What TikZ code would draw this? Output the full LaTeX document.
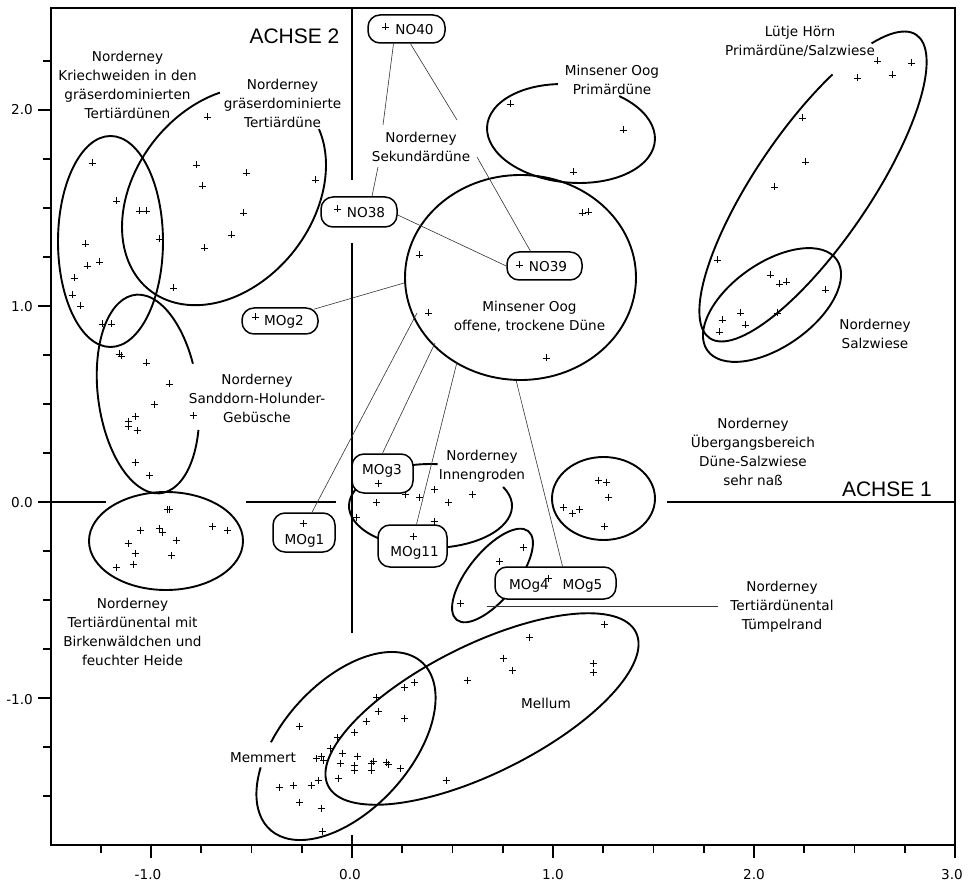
\documentclass[tikz,border=0pt]{standalone}
\usepackage{fontspec}
\setmainfont{DejaVu Sans}
\newfontfamily\achsefont{Liberation Sans}
\begin{document}
\begin{tikzpicture}[x=1pt,y=-1pt,
  ell/.style={line width=1.9pt},
  conn/.style={line width=0.6pt, draw=black!80},
  tagbox/.style={draw, line width=1.5pt, fill=white, rounded corners=12pt, inner sep=0pt},
  lab/.style={align=center, font=\fontsize{13.6}{19}\selectfont, inner sep=0pt},
  btxt/.style={font=\fontsize{13.6}{16}\selectfont, inner sep=0pt},
  axisline/.style={line width=1.7pt},
  ticklab/.style={font=\fontsize{13.6}{16}\selectfont, inner sep=0pt},
  achse/.style={font=\achsefont\fontsize{21}{24}\selectfont, inner sep=0pt},
  mk/.style={line width=0.7pt},
]
\fill[white] (0,0) rectangle (975,885);
\useasboundingbox (0,0) rectangle (975,885);

% frame and ticks
\draw[axisline] (51,8) rectangle (955,845);
\foreach \v in {-1,0,1,2} \draw[axisline] (38,{502-196*\v}) -- (51,{502-196*\v});
\foreach \v in {-1.5,-1.25,-0.75,-0.5,-0.25,0.25,0.5,0.75,1.25,1.5,1.75,2.25}
  \draw[axisline] (43,{502-196*\v}) -- (51,{502-196*\v});
\foreach \u in {-1,0,1,2,3} \draw[axisline] ({352+201*\u},845) -- ({352+201*\u},858);
\foreach \u in {-1.25,-0.75,-0.5,-0.25,0.25,0.5,0.75,1.25,1.5,1.75,2.25,2.5,2.75}
  \draw[axisline] ({352+201*\u},845) -- ({352+201*\u},853);
\draw[axisline] (352,835) -- (352,845);

\node[ticklab, anchor=east] (yl2) at (33,110) {2.0};
\node[ticklab, anchor=east] (yl1) at (33,307) {1.0};
\node[ticklab, anchor=east] (yl0) at (33,503) {0.0};
\node[ticklab, anchor=east] (ylm1) at (33,700) {-1.0};
\node[ticklab] (xlm1) at (148,875) {-1.0};
\node[ticklab] (xl0) at (350,875) {0.0};
\node[ticklab] (xl1) at (553,875) {1.0};
\node[ticklab] (xl2) at (754,875) {2.0};
\node[ticklab] (xl3) at (952,875) {3.0};

% inner axes
\draw[axisline] (352,8) -- (352,180);
\draw[axisline] (352,243) -- (352,633);
\draw[axisline] (51,502) -- (106,502);
\draw[axisline] (246,502) -- (336,502);
\draw[axisline] (667,502) -- (955,502);
\node[achse] (achse2) at (294.5,36) {ACHSE 2};
\node[achse] (achse1) at (887,489) {ACHSE 1};

% closed ellipses
\draw[ell] (110.5,241.5) ellipse [x radius=52.5, y radius=105.5];
\draw[ell] (166,541) ellipse [x radius=77, y radius=49];
\draw[ell] (520.5,277.5) ellipse [x radius=115.5, y radius=102.5];
\draw[ell] (603.5,498.5) ellipse [x radius=51.5, y radius=41.5];
\draw[ell, rotate around={35:(772,305)}] (772,305) ellipse [x radius=79, y radius=42];
\draw[ell, rotate around={26.5:(482,709)}] (482,709) ellipse [x radius=172, y radius=64];
\draw[ell, rotate around={51:(492.5,575.5)}] (492.5,575.5) ellipse [x radius=57, y radius=24];

% open ellipses
\begin{scope}[shift={(224,196)}, rotate=51.8]
  \draw[ell] (22:120 and 89) arc[start angle=22, end angle=311, x radius=120, y radius=89];
\end{scope}
\begin{scope}[shift={(148,394)}, rotate=97.5]
  \draw[ell] (115:100 and 50) arc[start angle=115, end angle=436, x radius=100, y radius=50];
\end{scope}
\begin{scope}[shift={(571,133.5)}, rotate=-5.2]
  \draw[ell] (302:84.2 and 49.1) arc[start angle=302, end angle=618, x radius=84.2, y radius=49.1];
\end{scope}
\begin{scope}[shift={(813,186.5)}, rotate=55.7]
  \draw[ell] (-34.5:183.5 and 57) arc[start angle=-34.5, end angle=304.4, x radius=183.5, y radius=57];
\end{scope}
\begin{scope}[shift={(430.5,506)}]
  \draw[ell] (-27:81.5 and 42) arc[start angle=-27, end angle=275, x radius=81.5, y radius=42];
\end{scope}
\begin{scope}[shift={(346,746)}, rotate=47.7]
  \draw[ell] (245:113 and 64) arc[start angle=245, end angle=589.6, x radius=113, y radius=64];
\end{scope}

% boxes
\node[tagbox, minimum width=77pt, minimum height=28pt] (NO40) at (406.5,29) {};
\node[tagbox, minimum width=76pt, minimum height=30pt] (NO38) at (359,212) {};
\node[tagbox, minimum width=75pt, minimum height=28pt] (NO39) at (544.5,266) {};
\node[tagbox, minimum width=76pt, minimum height=26pt] (MOg2) at (280,321) {};
\node[tagbox, minimum width=62pt, minimum height=39pt] (MOg1) at (304,532.5) {};
\node[tagbox, minimum width=61pt, minimum height=39pt] (MOg3) at (382.5,473.5) {};
\node[tagbox, minimum width=69pt, minimum height=42pt] (MOg11) at (412.5,546) {};
\node[tagbox, minimum width=121pt, minimum height=32pt] (MOg45) at (555.5,583) {};

% connector end points
\coordinate (sekTL) at (383,125);
\coordinate (sekTR) at (457,120);
\coordinate (sekBL) at (378,167);
\coordinate (sekBR) at (477,157);
\coordinate (bigA) at (404,283);
\coordinate (bigB) at (417,313);
\coordinate (bigC) at (435,343);
\coordinate (bigD) at (457,362);
\coordinate (bigE) at (516,380);
\coordinate (tumpA) at (487,606);
\coordinate (tumpB) at (718,606);

\draw[conn] ([xshift=-13pt]NO40.south) -- (sekTL);
\draw[conn] ([xshift=4pt]NO40.south) -- (sekTR);
\draw[conn] (sekBL) -- ([xshift=13pt]NO38.north);
\draw[conn] (sekBR) -- ([xshift=-14pt]NO39.north);
\draw[conn] ([yshift=-3pt]NO38.east) -- (NO39.west);
\draw[conn] ([xshift=-5pt,yshift=-2pt]MOg2.north east) -- (bigA);
\draw[conn] ([xshift=8pt]MOg1.north) -- (bigB);
\draw[conn] (MOg3.north) -- (bigC);
\draw[conn] ([xshift=4pt]MOg11.north) -- (bigD);
\draw[conn] ([xshift=7pt]MOg45.north) -- (bigE);
\draw[conn] (tumpA) -- (tumpB);

% box texts
\node[btxt] (NO40t) at (414.5,30) {NO40};
\node[btxt] (NO38t) at (366,213) {NO38};
\node[btxt] (NO39t) at (548,267) {NO39};
\node[btxt] (MOg2t) at (284,322) {MOg2};
\node[btxt] (MOg1t) at (304.5,541) {MOg1};
\node[btxt] (MOg3t) at (382,471) {MOg3};
\node[btxt] (MOg11t) at (414.5,553) {MOg11};
\node[btxt] (MOg4t) at (529,586) {MOg4};
\node[btxt] (MOg5t) at (582.5,586) {MOg5};

% labels
\node[lab] (kriech) at (127.5,85) {Norderney\\Kriechweiden in den\\gräserdominierten\\Tertiärdünen};
\node[lab] (graeser) at (282.5,103) {Norderney\\gräserdominierte\\Tertiärdüne};
\node[lab] (sek) at (421,147) {Norderney\\Sekundärdüne};
\node[lab] (primMO) at (612,80) {Minsener Oog\\Primärdüne};
\node[lab] (luetje) at (800,41) {Lütje Hörn\\Primärdüne/Salzwiese};
\node[lab] (offene) at (529.5,317) {Minsener Oog\\offene, trockene Düne};
\node[lab] (salzN) at (875,334) {Norderney\\Salzwiese};
\node[lab] (sanddorn) at (257,398) {Norderney\\Sanddorn-Holunder-\\Gebüsche};
\node[lab] (ueberg) at (753,452) {Norderney\\Übergangsbereich\\Düne-Salzwiese\\sehr naß};
\node[lab] (innen) at (482,466) {Norderney\\Innengroden};
\node[lab] (tuemp) at (782,607) {Norderney\\Tertiärdünental\\Tümpelrand};
\node[lab] (birken) at (132.5,632) {Norderney\\Tertiärdünental mit\\Birkenwäldchen und\\feuchter Heide};
\node[lab] (memmert) at (263,758) {Memmert};
\node[lab] (mellum) at (546,703) {Mellum};

% data points
\foreach \x/\y in {207/117, 92/163, 196/165, 246/173, 202/186, 315/180, 116/201, 139/211, 146/211,
  243/213, 159/239, 231/235, 85/244, 204/248, 87/266, 99/262, 74/278, 72/295, 173/288, 80/306,
  102/324, 111/324, 119/354, 121/356, 146/363, 169/384, 154/404, 193/415, 135/416, 128/421,
  128/426, 137/430, 135/462, 149/475,
  167/509, 169/509, 140/530, 159/528, 162/532, 212/526, 227/530, 176/540, 128/543, 135/553,
  171/555, 116/567, 133/564,
  255/317, 303/523, 385/27, 337/209, 519/265,
  510/104, 623/130, 573/172, 582/213, 588/212, 419/255, 428/313, 546/358,
  877/61, 911/63, 857/78, 892/75, 802/118, 805/162, 774/187, 717/260,
  770/275, 779/284, 786/282, 825/290, 740/313, 777/313, 722/320, 745/325, 719/332,
  378/483, 376/502, 405/494, 419/497, 434/489, 448/502, 472/494, 356/517, 434/521, 413/536,
  598/480, 606/482, 608/497, 563/507, 572/513, 579/509, 604/526,
  523/547, 499/561, 460/603, 548/578,
  604/624, 529/637, 503/658, 512/670, 467/680, 593/663, 593/672,
  414/682, 404/687, 376/697, 378/711, 404/718, 366/721, 299/726, 354/732, 337/737, 330/748,
  342/753, 357/756, 316/758, 321/756, 323/760, 340/763, 354/765, 371/763, 373/761, 386/762,
  388/764, 400/768, 354/770, 371/770, 338/778, 318/780, 446/780, 311/785, 293/785, 279/787,
  299/802, 321/808, 322/831}
  \draw[mk] (\x,\y) +(-3.5,0) -- +(3.5,0) +(0,-3.5) -- +(0,3.5);
\end{tikzpicture}
\end{document}
